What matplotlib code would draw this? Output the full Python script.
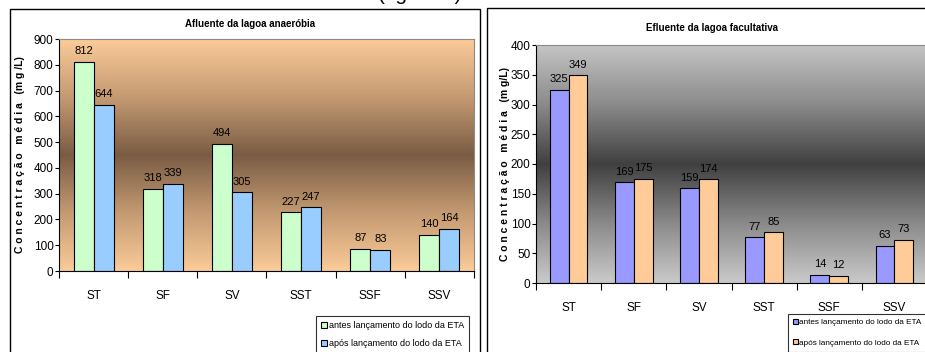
import numpy as np
import matplotlib
matplotlib.use('Agg')
import matplotlib.pyplot as plt
from matplotlib.colors import LinearSegmentedColormap
from matplotlib.patches import Rectangle

plt.rcParams['font.family'] = ['Liberation Sans Narrow', 'Liberation Sans', 'DejaVu Sans']

# Data
categorias = ['ST', 'SF', 'SV', 'SST', 'SSF', 'SSV']
afluente_antes = [812, 318, 494, 227, 87, 140]
afluente_apos = [644, 339, 305, 247, 83, 164]
efluente_antes = [325, 169, 159, 77, 14, 63]
efluente_apos = [349, 175, 174, 85, 12, 73]

legenda = ['antes lançamento do lodo da ETA', 'após lançamento do lodo da ETA']
ylabel = 'C o n c e n t r a ç ã o   m é d i a   (m g /L)'

W, H = 925, 352
fig = plt.figure(figsize=(W / 100, H / 100), dpi=100)


def fx(px):
    return px / W


def fy(py):
    return 1 - py / H


# caption of the page above the charts, only its lower edge is visible
fig.text(fx(420), fy(0.5), '(figura 5)', fontsize=15, ha='center', va='baseline',
         family=['Liberation Sans', 'DejaVu Sans'])

# chart frames
fig.patches.append(Rectangle((fx(10), fy(360)), fx(470), (360 - 9) / H,
                             transform=fig.transFigure, fill=False,
                             edgecolor='black', linewidth=1.0))
fig.patches.append(Rectangle((fx(487), fy(360)), fx(460), (360 - 8) / H,
                             transform=fig.transFigure, fill=False,
                             edgecolor='black', linewidth=1.0))


def desenha(ax, antes, apos, ymax, ystep, cores, grad_cols, titulo, tx, ty):
    n = len(categorias)
    x = np.arange(n)
    w = 0.29
    # gradient background
    cmap = LinearSegmentedColormap.from_list('g', grad_cols)
    grad = np.linspace(0, 1, 256).reshape(-1, 1)
    ax.imshow(grad, cmap=cmap, aspect='auto', extent=(-0.5, n - 0.5, 0, ymax),
              origin='lower', zorder=0, interpolation='bilinear')
    b1 = ax.bar(x - w / 2, antes, w, color=cores[0], edgecolor='black', linewidth=0.8, zorder=2)
    b2 = ax.bar(x + w / 2, apos, w, color=cores[1], edgecolor='black', linewidth=0.8, zorder=2)
    for bars, vals in ((b1, antes), (b2, apos)):
        for r, v in zip(bars, vals):
            ax.annotate(str(v), (r.get_x() + r.get_width() / 2, v), xytext=(0, 4),
                        textcoords='offset points', ha='center', va='bottom', fontsize=8)
    ax.set_xlim(-0.5, n - 0.5)
    ax.set_ylim(0, ymax)
    ax.set_yticks(np.arange(0, ymax + 1, ystep))
    ax.set_xticks(np.arange(-0.5, n, 1.0))
    ax.set_xticklabels([])
    ax.set_xticks(x, minor=True)
    ax.set_xticklabels(categorias, minor=True)
    ax.tick_params(axis='x', which='major', direction='out', length=5, width=0.8)
    ax.tick_params(axis='x', which='minor', length=0, pad=14, labelsize=8.5)
    ax.tick_params(axis='y', direction='out', length=3, width=0.8, labelsize=8.5, pad=1)
    for s in ('top', 'right'):
        ax.spines[s].set_color('#8a8a8a')
        ax.spines[s].set_linewidth(0.8)
    for s in ('left', 'bottom'):
        ax.spines[s].set_linewidth(0.8)
    fig.text(fx(tx), fy(ty), titulo, ha='center', va='center', fontsize=7, fontweight='bold')
    return b1, b2


ax1 = fig.add_axes([fx(59), fy(271), fx(474 - 59), (271 - 39) / H])
h1 = desenha(ax1, afluente_antes, afluente_apos, 900, 100, ['#CCFFCC', '#99CCFF'],
             ['#FBCB98', '#C49A72', '#7A5C44', '#C49A72', '#FBCB98'],
             'Afluente da lagoa anaeróbia', 250, 24)
fig.text(fx(20), fy(155), ylabel, rotation=90, ha='center', va='center',
         fontsize=7.5, fontweight='bold')

ax2 = fig.add_axes([fx(536), fy(283), fx(927 - 536), (283 - 45) / H])
h2 = desenha(ax2, efluente_antes, efluente_apos, 400, 50, ['#9999FF', '#FFCC99'],
             ['#CACACA', '#8A8A8A', '#404040', '#8A8A8A', '#C4C4C4'],
             'Efluente da lagoa facultativa', 712, 28)
fig.text(fx(505), fy(164), ylabel.replace('(m g /L)', '(m g/L)'), rotation=90,
         ha='center', va='center', fontsize=7.5, fontweight='bold')

for hs, x0, y0, fs, sp in ((h1, 316, 316, 6.5, 1.0), (h2, 788, 314, 5.9, 1.55)):
    leg = fig.legend(hs, legenda, loc='upper left', bbox_to_anchor=(fx(x0), fy(y0)),
                     fontsize=fs, frameon=True, fancybox=False, edgecolor='black',
                     handlelength=0.6, handleheight=0.6, handletextpad=0.2,
                     borderpad=0.6, labelspacing=sp, borderaxespad=0)
    leg.get_frame().set_linewidth(0.8)

fig.savefig('out.png', dpi=100)
